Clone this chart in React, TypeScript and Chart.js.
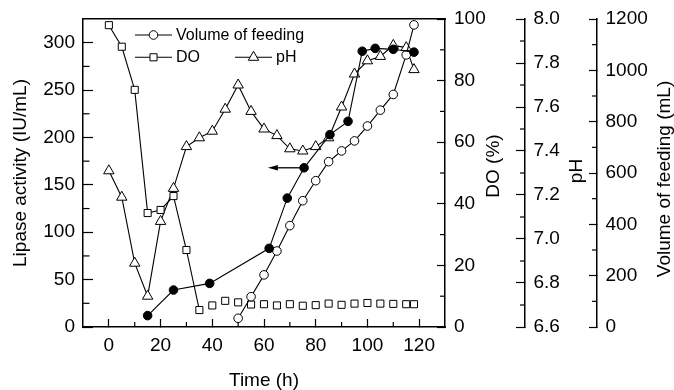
import { useEffect, useRef } from 'react';
import { Chart, registerables } from 'chart.js';

Chart.register(...registerables);
Chart.defaults.font.family = '"Liberation Sans", Arial, Helvetica, sans-serif';

// ---------------- data ----------------
const timeDO = [0, 5, 10, 15, 20, 25, 30, 35, 40, 45, 50, 55, 60, 65, 70, 75, 80, 85, 90, 95, 100, 105, 110, 115, 118];
const doValues = [98, 91, 77, 37, 38, 42.5, 25, 5.5, 7, 8.5, 8, 7.3, 7.4, 7, 7.4, 6.9, 7.1, 7.6, 7.2, 7.6, 7.8, 7.6, 7.5, 7.4, 7.4];
const timePH = [0, 5, 10, 15, 20, 25, 30, 35, 40, 45, 50, 55, 60, 65, 70, 75, 80, 85, 90, 95, 100, 105, 110, 115, 118];
const phValues = [7.31, 7.19, 6.89, 6.74, 7.08, 7.23, 7.42, 7.46, 7.49, 7.59, 7.7, 7.58, 7.5, 7.47, 7.41, 7.4, 7.42, 7.46, 7.6, 7.75, 7.81, 7.83, 7.88, 7.87, 7.77];
const timeLipase = [15, 25, 39, 62, 69, 75.5, 85.5, 92.5, 98, 103, 110, 118];
const lipaseValues = [12, 39, 46, 83, 136, 168, 203, 217, 291, 294, 293, 290];
const timeVolume = [50, 55, 60, 65, 70, 75, 80, 85, 90, 95, 100, 105, 110, 115, 118];
const volumeValues = [34, 118, 203, 296, 395, 492, 570, 644, 686, 725, 783, 845, 906, 1060, 1177];

// DO line is drawn only up to this time; later points are markers only
const doLineEndT = 35;

// arrow pointing from a lipase point to the lipase axis side
const arrowFrom = { t: 75.5, value: 168 };
const arrowToT = 61.5;

// ---------------- ticks ----------------
const xRange = [-10, 130];
const xMajorTicks = [0, 20, 40, 60, 80, 100, 120];
const xMinorTicks = [10, 30, 50, 70, 90, 110];
const lipaseRange = [0, 325];
const lipaseMajorTicks = [0, 50, 100, 150, 200, 250, 300];
const lipaseMinorTicks = [25, 75, 125, 175, 225, 275];
const doRange = [0, 100];
const doMajorTicks = [0, 20, 40, 60, 80, 100];
const doMinorTicks = [10, 30, 50, 70, 90];
const phRange = [6.6, 8.0];
const phMajorTicks = [6.6, 6.8, 7.0, 7.2, 7.4, 7.6, 7.8, 8.0];
const phMinorTicks = [6.7, 6.9, 7.1, 7.3, 7.5, 7.7, 7.9];
const volRange = [0, 1200];
const volMajorTicks = [0, 200, 400, 600, 800, 1000, 1200];
const volMinorTicks = [100, 300, 500, 700, 900, 1100];

// ---------------- styles ----------------
const BLACK = '#000';
const tickFont = { size: 19 };
const titleFont = { size: 19 };
const legendFontSize = 16;
const AXIS_W = 1.5;
const TICK_W = 1.2;
const LINE_W = 1.1;

const toXY = (xs: number[], ys: number[]) => xs.map((x, i) => ({ x, y: ys[i] }));

const fixBox = (size: { width?: number; height?: number }) => (s: any) => {
  if (size.width !== undefined) s.width = size.width;
  if (size.height !== undefined) s.height = size.height;
  s.paddingTop = 0;
  s.paddingBottom = 0;
  s.paddingLeft = 0;
  s.paddingRight = 0;
};

const setTicks = (values: number[]) => (s: any) => {
  s.ticks = values.map((value) => ({ value }));
};

const plainLabel = (v: any) => String(v);

const minorTickSpecs = [
  { id: 'x', values: xMinorTicks, length: 5 },
  { id: 'y', values: lipaseMinorTicks, length: 6.5 },
  { id: 'yDO', values: doMinorTicks, length: 5 },
  { id: 'yPH', values: phMinorTicks, length: 5 },
  { id: 'yVol', values: volMinorTicks, length: 5 },
];

const rightTitles = [
  { id: 'yDO', text: 'DO (%)', dx: 48.5, dy: -7 },
  { id: 'yPH', text: 'pH', dx: 52, dy: -2 },
  { id: 'yVol', text: 'Volume of feeding (mL)', dx: 68, dy: 6 },
];

const legendItems = [
  { dataset: 1, style: 'circle', dx: 52, dy: 16 },
  { dataset: 2, style: 'rect', dx: 52, dy: 38.3 },
  { dataset: 3, style: 'triangle', dx: 152, dy: 38.3 },
];

function drawMarker(ctx: CanvasRenderingContext2D, style: string, x: number, y: number, r: number) {
  ctx.beginPath();
  if (style === 'circle') {
    ctx.arc(x, y, r, 0, Math.PI * 2);
  } else if (style === 'rect') {
    const s = Math.SQRT1_2 * r;
    ctx.rect(x - s, y - s, 2 * s, 2 * s);
  } else {
    let rad = 0;
    ctx.moveTo(x + Math.sin(rad) * r, y - Math.cos(rad) * r);
    rad += (2 * Math.PI) / 3;
    ctx.lineTo(x + Math.sin(rad) * r, y - Math.cos(rad) * r);
    rad += (2 * Math.PI) / 3;
    ctx.lineTo(x + Math.sin(rad) * r, y - Math.cos(rad) * r);
    ctx.closePath();
  }
  ctx.fill();
  ctx.stroke();
}

const decorPlugin = {
  id: 'decor',
  beforeDatasetsDraw(chart: any) {
    const ctx = chart.ctx as CanvasRenderingContext2D;
    const xs = chart.scales.x;
    const ys = chart.scales.y;
    const x0 = xs.getPixelForValue(arrowFrom.t);
    const y0 = ys.getPixelForValue(arrowFrom.value);
    const x1 = xs.getPixelForValue(arrowToT);
    const headLen = 10;
    const headHalf = 2.8;
    ctx.save();
    ctx.strokeStyle = BLACK;
    ctx.fillStyle = BLACK;
    ctx.lineWidth = 1.3;
    ctx.beginPath();
    ctx.moveTo(x0, y0);
    ctx.lineTo(x1 + headLen - 1, y0);
    ctx.stroke();
    ctx.beginPath();
    ctx.moveTo(x1, y0);
    ctx.lineTo(x1 + headLen, y0 - headHalf);
    ctx.lineTo(x1 + headLen, y0 + headHalf);
    ctx.closePath();
    ctx.fill();
    ctx.restore();
  },
  afterDraw(chart: any) {
    const ctx = chart.ctx as CanvasRenderingContext2D;
    const area = chart.chartArea;
    ctx.save();
    // minor ticks
    ctx.strokeStyle = BLACK;
    ctx.lineWidth = TICK_W;
    for (const spec of minorTickSpecs) {
      const sc = chart.scales[spec.id];
      for (const v of spec.values) {
        const p = sc.getPixelForValue(v);
        ctx.beginPath();
        if (spec.id === 'x') {
          ctx.moveTo(p, sc.top);
          ctx.lineTo(p, sc.top - spec.length);
        } else if (sc.position === 'left') {
          ctx.moveTo(sc.right, p);
          ctx.lineTo(sc.right + spec.length, p);
        } else {
          ctx.moveTo(sc.left, p);
          ctx.lineTo(sc.left - spec.length, p);
        }
        ctx.stroke();
      }
    }
    // right axis titles (reading bottom to top)
    ctx.fillStyle = BLACK;
    ctx.font = `${titleFont.size}px ${Chart.defaults.font.family}`;
    ctx.textAlign = 'center';
    ctx.textBaseline = 'middle';
    for (const t of rightTitles) {
      const sc = chart.scales[t.id];
      ctx.save();
      ctx.translate(sc.left + t.dx, (sc.top + sc.bottom) / 2 + t.dy);
      ctx.rotate(-Math.PI / 2);
      ctx.fillText(t.text, 0, 0);
      ctx.restore();
    }
    // legend
    ctx.font = `${legendFontSize}px ${Chart.defaults.font.family}`;
    ctx.textAlign = 'left';
    for (const item of legendItems) {
      const ds = chart.data.datasets[item.dataset];
      const x = area.left + item.dx;
      const y = area.top + item.dy;
      ctx.strokeStyle = BLACK;
      ctx.lineWidth = LINE_W;
      ctx.beginPath();
      ctx.moveTo(x, y);
      ctx.lineTo(x + 37, y);
      ctx.stroke();
      ctx.fillStyle = '#fff';
      ctx.lineWidth = 1;
      drawMarker(ctx, item.style, x + 18.5, y, ds.pointRadius);
      ctx.fillStyle = BLACK;
      ctx.fillText(ds.label, x + 41, y + 0.2);
    }
    ctx.restore();
  },
};

const axisCommon = {
  type: 'linear' as const,
  grid: { display: true, drawOnChartArea: false, drawTicks: true, tickColor: BLACK, tickWidth: TICK_W },
  border: { display: true, color: BLACK, width: AXIS_W },
};

export default function App() {
  const ref = useRef<HTMLCanvasElement>(null);

  useEffect(() => {
    document.body.style.margin = '0';
    const canvas = ref.current;
    if (!canvas) return;
    const chart = new Chart(canvas, {
      type: 'line',
      data: {
        datasets: [
          {
            label: 'Lipase activity',
            data: toXY(timeLipase, lipaseValues),
            xAxisID: 'x',
            yAxisID: 'y',
            borderColor: BLACK,
            borderWidth: LINE_W,
            backgroundColor: BLACK,
            pointStyle: 'circle',
            pointRadius: 4.3,
            pointBorderWidth: 1,
            pointBackgroundColor: BLACK,
            pointBorderColor: BLACK,
            tension: 0,
            fill: false,
          },
          {
            label: 'Volume of feeding',
            data: toXY(timeVolume, volumeValues),
            xAxisID: 'x',
            yAxisID: 'yVol',
            borderColor: BLACK,
            borderWidth: LINE_W,
            backgroundColor: '#fff',
            pointStyle: 'circle',
            pointRadius: 4.3,
            pointBorderWidth: 1,
            pointBackgroundColor: '#fff',
            pointBorderColor: BLACK,
            tension: 0,
            fill: false,
          },
          {
            label: 'DO',
            data: toXY(timeDO, doValues),
            xAxisID: 'x',
            yAxisID: 'yDO',
            borderColor: BLACK,
            borderWidth: LINE_W,
            backgroundColor: '#fff',
            pointStyle: 'rect',
            pointRadius: 5,
            pointBorderWidth: 1,
            pointBackgroundColor: '#fff',
            pointBorderColor: BLACK,
            tension: 0,
            fill: false,
            segment: {
              borderColor: (c: any) => (c.p0.parsed.x >= doLineEndT ? 'rgba(0,0,0,0)' : BLACK),
            },
          },
          {
            label: 'pH',
            data: toXY(timePH, phValues),
            xAxisID: 'x',
            yAxisID: 'yPH',
            borderColor: BLACK,
            borderWidth: LINE_W,
            backgroundColor: '#fff',
            pointStyle: 'triangle',
            pointRadius: 6,
            pointBorderWidth: 1,
            pointBackgroundColor: '#fff',
            pointBorderColor: BLACK,
            tension: 0,
            fill: false,
          },
        ],
      } as any,
      options: {
        responsive: false,
        maintainAspectRatio: false,
        animation: false,
        devicePixelRatio: 1,
        events: [],
        layout: { autoPadding: false, padding: { top: 19, left: 0, right: 0, bottom: 0 } },
        plugins: { legend: { display: false }, tooltip: { enabled: false }, title: { display: false } },
        scales: {
          x: {
            ...axisCommon,
            position: 'bottom',
            min: xRange[0],
            max: xRange[1],
            afterBuildTicks: setTicks(xMajorTicks),
            afterFit: fixBox({ height: 63 }),
            grid: { ...axisCommon.grid, tickLength: -8 },
            ticks: { color: BLACK, font: tickFont, padding: 15.6, maxRotation: 0, autoSkip: false, callback: plainLabel },
            title: { display: true, text: 'Time (h)', color: BLACK, font: titleFont, padding: { top: 0, bottom: -2 } },
          },
          xTop: {
            ...axisCommon,
            position: 'top',
            min: xRange[0],
            max: xRange[1],
            afterFit: fixBox({ height: 0 }),
            grid: { display: false, drawTicks: false },
            ticks: { display: false },
          },
          y: {
            ...axisCommon,
            position: 'left',
            min: lipaseRange[0],
            max: lipaseRange[1],
            afterBuildTicks: setTicks(lipaseMajorTicks),
            afterFit: fixBox({ width: 83 }),
            grid: { ...axisCommon.grid, tickLength: -10 },
            ticks: { color: BLACK, font: tickFont, padding: 18, callback: plainLabel },
            title: { display: true, text: 'Lipase activity (IU/mL)', color: BLACK, font: titleFont, padding: { top: 9, bottom: 0 } },
          },
          yDO: {
            ...axisCommon,
            position: 'right',
            weight: 0,
            min: doRange[0],
            max: doRange[1],
            afterBuildTicks: setTicks(doMajorTicks),
            afterFit: fixBox({ width: 80 }),
            grid: { ...axisCommon.grid, tickLength: -8 },
            ticks: { color: BLACK, font: tickFont, padding: 17, callback: plainLabel },
          },
          yPH: {
            ...axisCommon,
            position: 'right',
            weight: 1,
            min: phRange[0],
            max: phRange[1],
            afterBuildTicks: setTicks(phMajorTicks),
            afterFit: fixBox({ width: 72 }),
            grid: { ...axisCommon.grid, tickLength: -9 },
            ticks: { color: BLACK, font: tickFont, padding: 17.5, callback: (v: any) => Number(v).toFixed(1) },
          },
          yVol: {
            ...axisCommon,
            position: 'right',
            weight: 2,
            min: volRange[0],
            max: volRange[1],
            afterBuildTicks: setTicks(volMajorTicks),
            afterFit: fixBox({ width: 77 }),
            grid: { ...axisCommon.grid, tickLength: -8 },
            ticks: { color: BLACK, font: tickFont, padding: 16.5, callback: plainLabel },
          },
        },
      } as any,
      plugins: [decorPlugin],
    });
    return () => chart.destroy();
  }, []);

  return (
    <div style={{ width: 674, height: 390 }}>
      <canvas ref={ref} width={674} height={390} style={{ display: 'block' }} />
    </div>
  );
}
